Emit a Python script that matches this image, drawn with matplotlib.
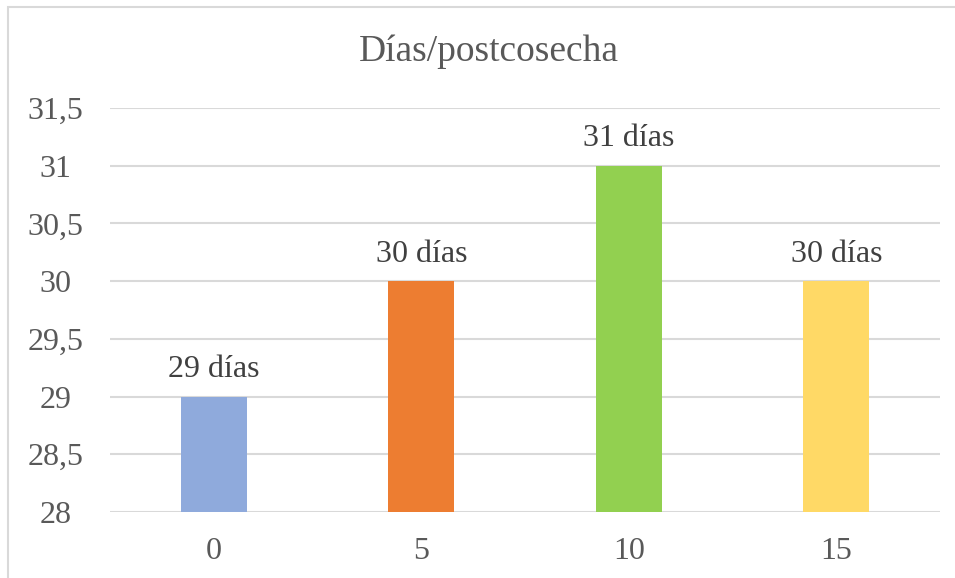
import matplotlib.pyplot as plt
from matplotlib.patches import Rectangle

categorias = ["0", "5", "10", "15"]
valores = [29, 30, 31, 30]
etiquetas = ["29 días", "30 días", "31 días", "30 días"]
colores = ["#8FAADC", "#ED7D31", "#92D050", "#FFD966"]
yticks = [28, 28.5, 29, 29.5, 30, 30.5, 31, 31.5]
ytick_labels = ["28", "28,5", "29", "29,5", "30", "30,5", "31", "31,5"]

plt.rcParams['font.family'] = ['Liberation Serif', 'DejaVu Serif']
gris = "#595959"

W, H = 955, 578
fig = plt.figure(figsize=(W / 100, H / 100), dpi=100)
ax = fig.add_axes([110 / W, 1 - 512 / H, (940 - 110) / W, (512 - 108) / H])

# marco del grafico
fig.patches.append(Rectangle((8 / W, -0.1), 1.2, 1 - 7 / H + 0.1, transform=fig.transFigure,
                             fill=False, edgecolor="#D9D9D9", linewidth=1.5))

x = range(len(categorias))
ax.bar(x, valores, width=0.32, color=colores, zorder=3, bottom=0)
ax.set_ylim(28, 31.5)
ax.set_xlim(-0.5, 3.5)
ax.set_yticks(yticks)
ax.set_yticklabels(ytick_labels, ha="center")
ax.set_xticks(list(x))
ax.set_xticklabels(categorias)
ax.tick_params(length=0, labelsize=23, labelcolor=gris)
ax.tick_params(axis='y', pad=39)
ax.tick_params(axis='x', pad=18)
ax.grid(axis='y', color="#D9D9D9", linewidth=1.5, zorder=0)
for s in ax.spines.values():
    s.set_visible(False)

for i, v in enumerate(valores):
    ax.annotate(etiquetas[i], (i, v), xytext=(0, 14), textcoords="offset points",
                ha="center", va="baseline", fontsize=23, color="#404040")

fig.text(489 / W, 1 - 52 / H, "Días/postcosecha", ha="center", va="center",
         fontsize=27, color=gris)

fig.savefig("out.png", dpi=100)
